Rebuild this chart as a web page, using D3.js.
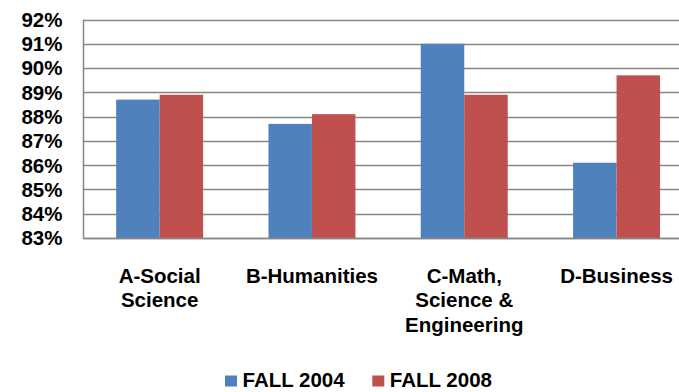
<!DOCTYPE html>
<html>
<head>
<meta charset="utf-8">
<script src="https://cdn.jsdelivr.net/npm/d3@7"></script>
<style>
html,body{margin:0;padding:0;background:#fff;overflow:hidden;}
text{font-family:"Liberation Sans",Arial,sans-serif;font-weight:bold;fill:#000;}
</style>
</head>
<body>
<svg id="chart" width="679" height="392"></svg>
<script>
const categories = [["A-Social","Science"],["B-Humanities"],["C-Math,","Science &","Engineering"],["D-Business"]];
const categoryKeys = ["A","B","C","D"];
const seriesNames = ["FALL 2004","FALL 2008"];
const fall2004 = [88.7, 87.7, 91.0, 86.1];
const fall2008 = [88.9, 88.1, 88.9, 89.7];
const yTicks = [83,84,85,86,87,88,89,90,91,92];
const colors = ["#4F81BD","#C0504D"];

(function(){
const svg = d3.select("#chart");
const pLeft = 83.5, pRight = 692.7, pTop = 19.5, pBottom = 238;
const fs = 20.5;

const y = d3.scaleLinear().domain([83,92]).range([pBottom, pTop]);
const x0 = d3.scaleBand().domain(categoryKeys).range([pLeft, pRight]).paddingInner(0.429).paddingOuter(0.2145);
const x1 = d3.scaleBand().domain(seriesNames).range([0, x0.bandwidth()]);

svg.append("g").selectAll("line").data(yTicks).join("line")
  .attr("x1", pLeft).attr("x2", 679)
  .attr("y1", d => Math.round(y(d)) + 0.5).attr("y2", d => Math.round(y(d)) + 0.5)
  .attr("stroke", "#868686").attr("stroke-width", 1.5);

svg.append("line").attr("x1", pLeft).attr("x2", pLeft).attr("y1", pTop).attr("y2", pBottom + 0.5)
  .attr("stroke", "#868686").attr("stroke-width", 1.5);

svg.append("g").selectAll("text").data(yTicks).join("text")
  .attr("x", 62.5).attr("y", d => y(d)).attr("dy", "0.36em")
  .attr("text-anchor", "end").style("font-size", fs + "px")
  .text(d => d + "%");

const rows = categoryKeys.map((k, i) => ({k, vals: [fall2004[i], fall2008[i]]}));
const g = svg.append("g").selectAll("g").data(rows).join("g")
  .attr("transform", d => `translate(${x0(d.k)},0)`);
g.selectAll("rect").data(d => d.vals.map((v, j) => ({s: seriesNames[j], v, j}))).join("rect")
  .attr("x", d => x1(d.s)).attr("width", x1.bandwidth())
  .attr("y", d => y(d.v)).attr("height", d => pBottom - y(d.v))
  .attr("fill", d => colors[d.j]);

svg.append("line").attr("x1", pLeft).attr("x2", 679).attr("y1", pBottom + 0.5).attr("y2", pBottom + 0.5)
  .attr("stroke", "#868686").attr("stroke-width", 1.5);

const cl = svg.append("g").selectAll("text").data(categoryKeys).join("text")
  .attr("text-anchor", "middle").style("font-size", fs + "px")
  .attr("transform", d => `translate(${x0(d) + x0.bandwidth()/2},282.5)`);
cl.selectAll("tspan").data((d, i) => categories[i]).join("tspan")
  .attr("x", 0).attr("y", (d, i) => i * 24.5).text(d => d);

const legendX = [225, 372.3];
const lg = svg.append("g").selectAll("g").data(seriesNames).join("g")
  .attr("transform", (d, i) => `translate(${legendX[i]},0)`);
lg.append("rect").attr("x", 0).attr("y", 375.5).attr("width", 12).attr("height", 11)
  .attr("fill", (d, i) => colors[i]);
lg.append("text").attr("x", 17.5).attr("y", 387.3).style("font-size", fs + "px").text(d => d);
})();
</script>
</body>
</html>
